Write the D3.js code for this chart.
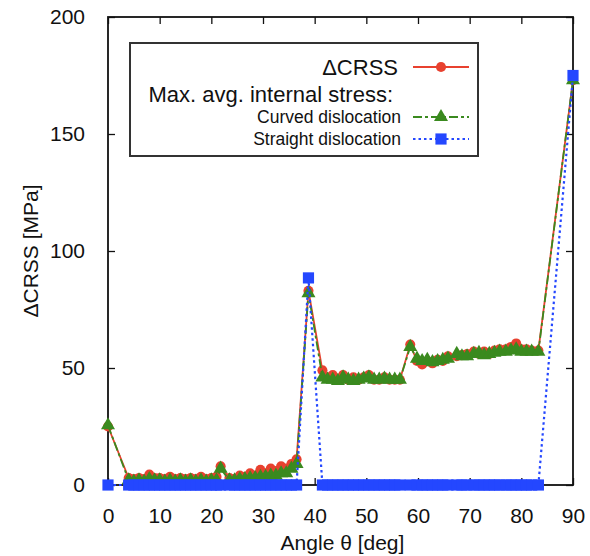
<!DOCTYPE html>
<html>
<head>
<meta charset="utf-8">
<script src="https://cdn.jsdelivr.net/npm/d3@7"></script>
<style>
  body { margin: 0; background: #fff; }
  text { font-family: "Liberation Sans", Arial, Helvetica, sans-serif; fill: #111; }
</style>
</head>
<body>
<script>
// Define constants
const width = 590
const height = 556
const margin = {top: 17, right: 17, bottom: 71, left: 108}

// data
const angles = [0, 4, 5, 6, 7, 8, 9, 10, 11, 12, 13, 14, 15, 16, 17, 18, 19, 20, 21, 21.8,
  23.5, 24.5, 25.5, 26.5, 27.5, 28.5, 29.5, 30.5, 31.5, 32.5, 33.5, 34.5, 35.5, 36.5,
  38.8,
  41.5, 42.5, 43.5, 44.5, 45.5, 46.5, 47.5, 48.5, 49.5, 50.5, 51.5, 52.5, 53.5, 54.5, 55.5, 56.5,
  58.5,
  59.8, 60.8, 61.8, 62.8, 63.8, 64.8, 65.8,
  67.5, 68.5, 69.5,
  70.8, 71.8, 72.8, 73.8, 74.8, 75.8,
  77, 78, 79, 80, 81, 82, 83.3,
  90]
const dcrss = [25, 3, 2.5, 3, 2.5, 4.5, 3, 3, 2.5, 3.5, 2.5, 3, 2.5, 3, 2.5, 3.5, 2.5, 3, 3.5, 8,
  3, 2.5, 4, 3.5, 5, 4, 6.5, 5, 7, 6, 8, 7, 9, 11,
  83,
  49, 46, 47, 45, 47, 45, 46, 45, 46, 47, 45, 45, 46, 45, 45, 45,
  60,
  53, 51.5, 53, 52, 53.5, 53, 55,
  55, 55.5, 56,
  57, 56, 57, 56, 57.5, 58,
  58, 59, 60.5, 58, 58, 57.5, 57.5,
  173]
const curved = [25.5, 2, 1.5, 2, 1.5, 2.5, 2, 2, 1.5, 2, 1.5, 2, 1.5, 2, 1.5, 2, 1.5, 2, 2, 7,
  2, 2, 2.5, 2.5, 3, 3, 3.5, 3.5, 4, 4, 5, 5, 7, 9,
  82,
  46, 45, 45, 44.5, 46, 45, 44.5, 45, 45.5, 46, 45, 45, 45.5, 45, 45, 45,
  59,
  54, 53, 53.5, 52.5, 53, 53.5, 54,
  56, 55, 55,
  56, 56.5, 55.5, 56, 56.5, 57,
  57, 57.5, 58, 57, 57, 57, 57,
  173]
const straight = angles.map((a, i) => 0)
straight[angles.indexOf(38.8)] = 88.5
straight[angles.indexOf(90)] = 175

const xTicks = [0, 10, 20, 30, 40, 50, 60, 70, 80, 90]
const yTicks = [0, 50, 100, 150, 200]

const series = [
  {name: "\u0394CRSS", values: dcrss, color: "#e8412f", dash: null, width: 1.8, marker: "circle"},
  {name: "Curved dislocation", values: curved, color: "#3a8a1f", dash: "9,3,3,3", width: 1.8, marker: "triangle"},
  {name: "Straight dislocation", values: straight, color: "#2447ff", dash: "2.5,3", width: 2.2, marker: "square"}
]

const svg = d3.select("body").append("svg")
  .attr("width", width)
  .attr("height", height)

const x = d3.scaleLinear().domain([0, 90]).range([margin.left, width - margin.right])
const y = d3.scaleLinear().domain([0, 200]).range([height - margin.bottom, margin.top])

// axes: inward ticks on all four sides
const tickLen = 7
svg.append("g")
  .attr("transform", `translate(0,${y(0)})`)
  .call(d3.axisBottom(x).tickValues(xTicks).tickSize(-tickLen).tickPadding(16 + tickLen).tickFormat(d3.format("d")))
  .call(g => g.select(".domain").remove())
svg.append("g")
  .attr("transform", `translate(0,${y(200)})`)
  .call(d3.axisTop(x).tickValues(xTicks).tickSize(-tickLen).tickFormat(""))
  .call(g => g.select(".domain").remove())
svg.append("g")
  .attr("transform", `translate(${x(0)},0)`)
  .call(d3.axisLeft(y).tickValues(yTicks).tickSize(-tickLen).tickPadding(16 + tickLen))
  .call(g => g.select(".domain").remove())
svg.append("g")
  .attr("transform", `translate(${x(90)},0)`)
  .call(d3.axisRight(y).tickValues(yTicks).tickSize(-tickLen).tickFormat(""))
  .call(g => g.select(".domain").remove())

svg.selectAll(".tick line").attr("stroke", "#111").attr("stroke-width", 1.3)
svg.selectAll(".tick text").style("font-size", "21px").attr("fill", "#111")

// frame
svg.append("rect")
  .attr("x", x(0)).attr("y", y(200))
  .attr("width", x(90) - x(0)).attr("height", y(0) - y(200))
  .attr("fill", "none").attr("stroke", "#111").attr("stroke-width", 1.8)

// axis labels
svg.append("text")
  .attr("x", (x(0) + x(90)) / 2 + 2)
  .attr("y", 550)
  .attr("text-anchor", "middle")
  .style("font-size", "21px")
  .text("Angle \u03b8 [deg]")
svg.append("text")
  .attr("transform", `translate(38,${(y(0) + y(200)) / 2}) rotate(-90)`)
  .attr("text-anchor", "middle")
  .style("font-size", "21px")
  .text("\u0394CRSS [MPa]")

const symbolFor = m => m === "circle" ? d3.symbolCircle : m === "triangle" ? d3.symbolTriangle : d3.symbolSquare
const sizeFor = m => m === "circle" ? 80 : m === "triangle" ? 85 : 125

// lines and points
series.forEach(s => {
  const pts = angles.map((a, i) => [a, s.values[i]])
  svg.append("path")
    .datum(pts)
    .attr("fill", "none")
    .attr("stroke", s.color)
    .attr("stroke-width", s.width)
    .attr("stroke-dasharray", s.dash)
    .attr("d", d3.line().x(d => x(d[0])).y(d => y(d[1])))
  svg.append("g").selectAll("path").data(pts)
    .enter().append("path")
    .attr("transform", d => `translate(${x(d[0])},${y(d[1])})`)
    .attr("d", d3.symbol().type(symbolFor(s.marker)).size(sizeFor(s.marker)))
    .attr("fill", s.color)
})

// legend
const lg = svg.append("g")
lg.append("rect")
  .attr("x", 130).attr("y", 43).attr("width", 348).attr("height", 113)
  .attr("fill", "#fff").attr("stroke", "#333").attr("stroke-width", 2)

const legendRows = [
  {s: series[0], y: 67, size: "22px"},
  {s: series[1], y: 117, size: "17.5px"},
  {s: series[2], y: 139, size: "17.5px"}
]
lg.append("text")
  .attr("x", 393).attr("y", 94)
  .attr("text-anchor", "end").attr("dominant-baseline", "central")
  .style("font-size", "22px")
  .text("Max. avg. internal stress:")
legendRows.forEach(r => {
  lg.append("text")
    .attr("x", r.s.marker === "circle" ? 398 : 401).attr("y", r.y)
    .attr("text-anchor", "end").attr("dominant-baseline", "central")
    .style("font-size", r.size)
    .text(r.s.name)
  lg.append("line")
    .attr("x1", 413).attr("x2", 469).attr("y1", r.y).attr("y2", r.y)
    .attr("stroke", r.s.color).attr("stroke-width", r.s.width)
    .attr("stroke-dasharray", r.s.dash)
  lg.append("path")
    .attr("transform", `translate(441,${r.y})`)
    .attr("d", d3.symbol().type(symbolFor(r.s.marker)).size(sizeFor(r.s.marker)))
    .attr("fill", r.s.color)
})
</script>
</body>
</html>
